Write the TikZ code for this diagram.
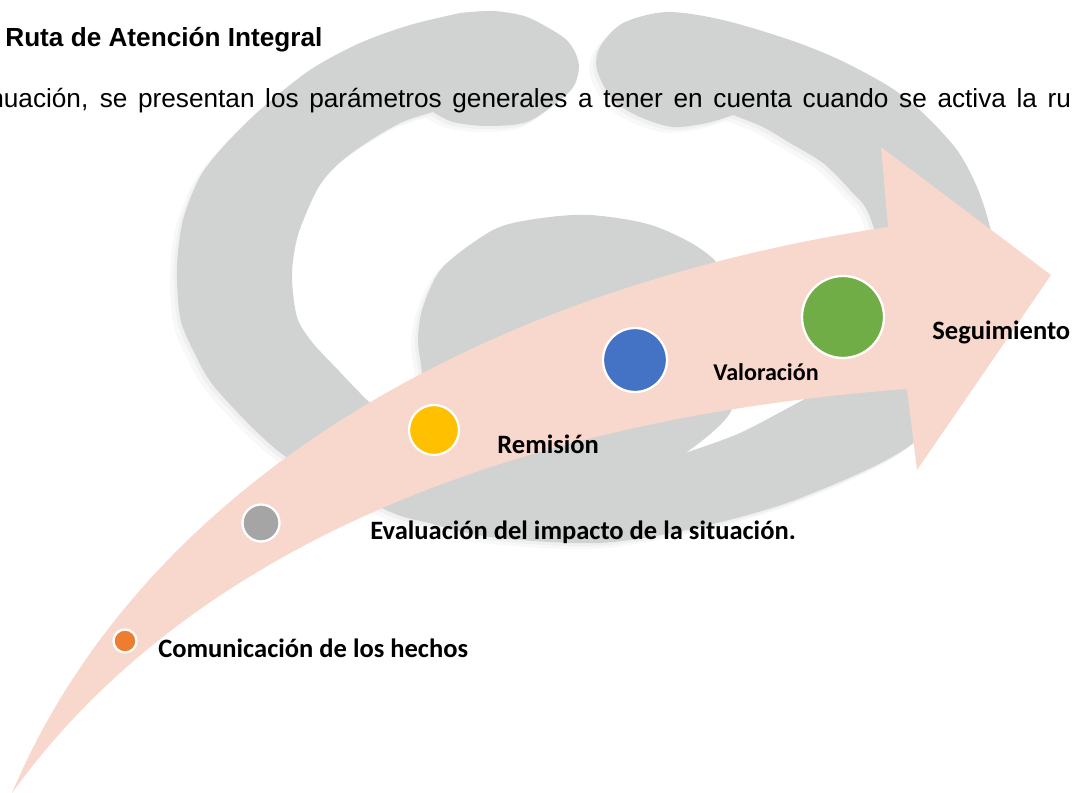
\documentclass[tikz,border=0pt]{standalone}
\usepackage{fontspec}
\setmainfont{Liberation Sans}
\newfontfamily\labelfont{Carlito}
\usetikzlibrary{positioning}
\definecolor{logogray}{HTML}{D0D3D2}
\definecolor{logoshadow}{HTML}{F0F0F0}
\definecolor{logoshadowb}{HTML}{F8F8F8}
\definecolor{arrowpink}{HTML}{F8D7CD}
\definecolor{dotorange}{HTML}{ED7D31}
\definecolor{dotgray}{HTML}{A5A5A5}
\definecolor{dotyellow}{HTML}{FFC000}
\definecolor{dotblue}{HTML}{4472C4}
\definecolor{dotgreen}{HTML}{70AD47}
\tikzset{
    dot/.style={circle, draw=white, line width=1.3pt, inner sep=0pt},
    steplabel/.style={anchor=base west, inner sep=0pt, font=\labelfont\bfseries\fontsize{15.1}{18}\selectfont},
    bodytext/.style={anchor=base west, inner sep=0pt, font=\fontsize{14.9}{18}\selectfont}
}
% Watermark outline
\newcommand{\logopath}{
    plot [smooth] coordinates {(460,13) (410,25) (360,43) (310,70) (260,110) (223,147) (200,177) (183,220) (177,267) (180,317) (193,350) (217,390) (286,457) (386,510) (429,523) (490,537) (600,543) (700,527) (803,497) (917,440) (985,340) (997,270) (990,227) (977,187) (957,150) (923,113) (890,87) (840,60) (790,40) (723,20) (667,12) (623,23) (600,47) (597,70) (613,100) (640,117) (673,127) (707,123) (733,115)}
    -- plot [smooth] coordinates {(733,115) (763,127) (790,143) (823,163) (850,190) (870,217) (890,300) (860,370) (803,400) (740,433) (685,453)}
    -- plot [smooth] coordinates {(685,453) (730,413) (750,340) (717,263) (657,227) (590,215) (535,219) (493,230) (443,267) (423,307) (418,340) (422,375) (420,410)}
    -- plot [smooth] coordinates {(400,430) (367,400) (339,371) (312,342) (297,317) (292,275) (298,235) (317,190) (335,167) (360,147) (400,123) (433,112)}
    -- plot [smooth] coordinates {(433,112) (453,122) (487,126) (527,122) (560,100) (574,86) (579,68) (575,52) (563,37) (527,17) (493,11) (460,13)}
    -- cycle
}
\begin{document}
\begin{tikzpicture}[x=0.02cm, y=-0.02cm]
        \useasboundingbox (0,0) rectangle (1073,793);
        % Watermark
        \fill [logoshadowb, shift={(-7,6)}] \logopath;
        \fill [logoshadow, shift={(-3,3)}] \logopath;
        \fill [logogray] \logopath;
        % Heading
        \node [bodytext, font=\bfseries\fontsize{14.9}{18}\selectfont] (title) at (5,47) {Ruta de Atención Integral};
        \node [bodytext] (intro) at (-11,108) {\makebox[615.7pt][s]{nuación, se presentan los parámetros generales a tener en cuenta cuando se activa la ru}};
        % Arrow
        \fill [arrowpink] (12,793) .. controls (140,490) and (470,290) .. (888,227)
            -- (881,147) -- (1051,275) -- (917,470) -- (907,389)
            .. controls (490,420) and (180,560) .. (12,793) -- cycle;
        % Dots
        \foreach \name/\cx/\cy/\dsize/\col in {comunicacion/125/641/0.46/dotorange, evaluacion/261/523/0.74/dotgray, remision/434/430/1.0/dotyellow, valoracion/635/360/1.28/dotblue, seguimiento/843/317/1.64/dotgreen}
        {
        \node [dot, fill=\col, minimum size=\dsize cm] (\name) at (\cx,\cy) {};
        }
        % Labels
        \node [steplabel] (comunicacionlabel) at (158,658) {Comunicación de los hechos};
        \node [steplabel] (evaluacionlabel) at (370,540) {Evaluación del impacto de la situación.};
        \node [steplabel] (remisionlabel) at (497,454) {Remisión};
        \node [steplabel, font=\labelfont\bfseries\fontsize{13.7}{16}\selectfont] (valoracionlabel) at (713,381) {Valoración};
        \node [steplabel] (seguimientolabel) at (932,340) {Seguimiento};
\end{tikzpicture}
\end{document}
